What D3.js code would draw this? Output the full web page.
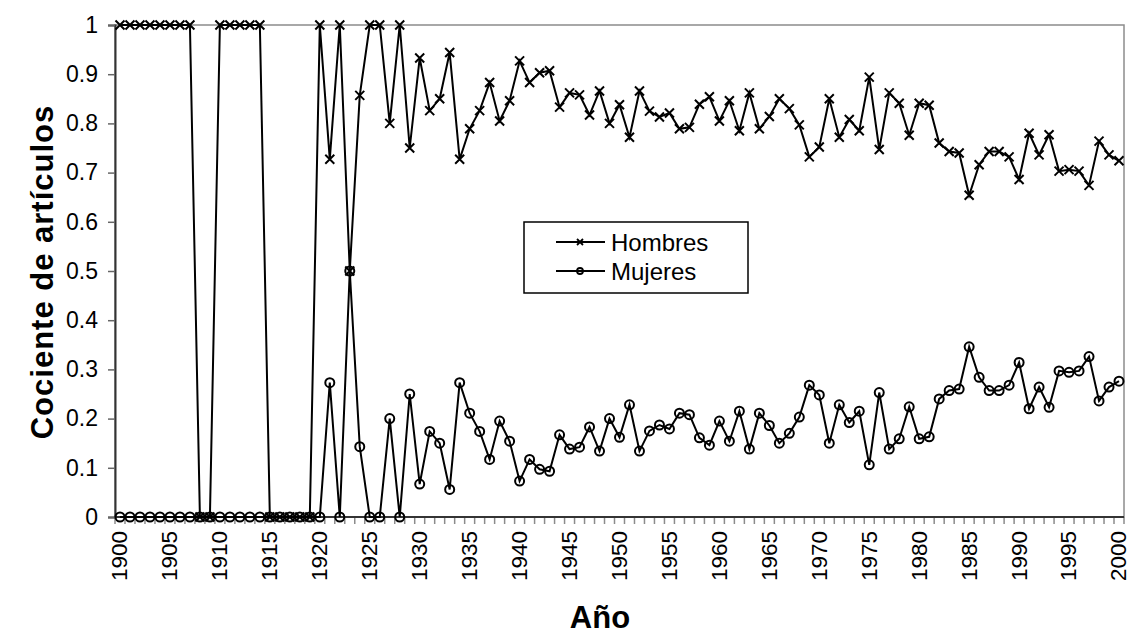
<!DOCTYPE html>
<html>
<head>
<meta charset="utf-8">
<script src="https://cdn.jsdelivr.net/npm/d3@7/dist/d3.min.js"></script>
<style>
  html, body { margin: 0; padding: 0; background: #fff; }
  svg { display: block; font-family: "Liberation Sans", Arial, sans-serif; }
</style>
</head>
<body>
<svg id="chart" width="1130" height="636"></svg>
<script>
// ---- data ----
const years = d3.range(1900, 2001).map(String);
const tickLabels = ["1900","1905","1910","1915","1920","1925","1930","1935","1940","1945","1950",
  "1955","1960","1965","1970","1975","1980","1985","1990","1995","2000"];
const yTicks = [0, 0.1, 0.2, 0.3, 0.4, 0.5, 0.6, 0.7, 0.8, 0.9, 1];
const seriesNames = ["Hombres", "Mujeres"];
const hombres = [
  1,1,1,1,1,1,1,1, 0,0, 1,1,1,1,1, 0,0,0,0,0, 1,
  0.727,1,0.5,0.857,1,1,0.8,1,0.75,
  0.933,0.826,0.85,0.944,0.727,0.789,0.826,0.883,0.805,0.846,
  0.927,0.883,0.903,0.907,0.833,0.862,0.858,0.817,0.866,0.8,
  0.838,0.772,0.866,0.825,0.813,0.821,0.789,0.792,0.839,0.854,
  0.805,0.846,0.785,0.862,0.789,0.814,0.85,0.83,0.797,0.732,
  0.752,0.85,0.772,0.808,0.785,0.894,0.747,0.862,0.841,0.776,
  0.841,0.837,0.76,0.743,0.74,0.654,0.716,0.743,0.743,0.732,
  0.686,0.78,0.736,0.777,0.703,0.706,0.703,0.674,0.764,0.736,
  0.724
];
const mujeres = [
  0,0,0,0,0,0,0,0, 0,0, 0,0,0,0,0, 0,0,0,0,0, 0,
  0.273,0,0.5,0.143,0,0,0.2,0,0.25,
  0.067,0.174,0.15,0.056,0.273,0.211,0.174,0.117,0.195,0.154,
  0.073,0.117,0.097,0.093,0.167,0.138,0.142,0.183,0.134,0.2,
  0.162,0.228,0.134,0.175,0.187,0.179,0.211,0.208,0.161,0.146,
  0.195,0.154,0.215,0.138,0.211,0.186,0.15,0.17,0.203,0.268,
  0.248,0.15,0.228,0.192,0.215,0.106,0.253,0.138,0.159,0.224,
  0.159,0.163,0.24,0.257,0.26,0.346,0.284,0.257,0.257,0.268,
  0.314,0.22,0.264,0.223,0.297,0.294,0.297,0.326,0.236,0.264,
  0.276
];

// ---- layout ----
const svg = d3.select("#chart");
const L = 115, R = 1124, T = 25, B = 517;
const x = d3.scaleBand().domain(years).range([L, R]).padding(0);
const y = d3.scaleLinear().domain([0, 1]).range([B, T]);
const cx = d => x(d) + x.bandwidth() / 2;
const FONT = "'Liberation Sans', Arial, sans-serif";

// plot border
svg.append("rect").attr("x", L).attr("y", T).attr("width", R - L).attr("height", B - T)
  .attr("fill", "#fff").attr("stroke", "#8c8c8c").attr("stroke-width", 1.5);

// x axis
const xAxis = d3.axisBottom(x).tickSize(0).tickFormat(d => tickLabels.includes(d) ? d : "");
const gx = svg.append("g").attr("transform", `translate(0,${B})`).call(xAxis);
gx.select(".domain").remove();
gx.selectAll("text")
  .attr("transform", "rotate(-90)")
  .attr("x", -14).attr("y", 0).attr("dy", "0.33em")
  .attr("text-anchor", "end")
  .attr("font-size", 22.5).attr("fill", "#000")
  .style("font-family", FONT);
// category boundary ticks
const bounds = years.map(d => x(d)).concat([R]);
svg.append("g").selectAll("line").data(bounds).join("line")
  .attr("x1", d => d).attr("x2", d => d).attr("y1", B).attr("y2", B + 7)
  .attr("stroke", "#8c8c8c").attr("stroke-width", 1.5);
svg.append("line").attr("x1", L).attr("x2", R).attr("y1", B).attr("y2", B)
  .attr("stroke", "#333").attr("stroke-width", 2);

// y axis
const yAxis = d3.axisLeft(y).tickValues(yTicks).tickSize(7).tickPadding(10)
  .tickFormat(d => d3.format("")(+d.toFixed(1)));
const gy = svg.append("g").attr("transform", `translate(${L},0)`).call(yAxis);
gy.select(".domain").attr("stroke", "#333").attr("stroke-width", 2);
gy.selectAll(".tick line").attr("stroke", "#666").attr("stroke-width", 1.5);
gy.selectAll("text").attr("font-size", 23).attr("fill", "#000")
  .style("font-family", FONT);

// axis titles
svg.append("text").attr("transform", `translate(53,${(T + B) / 2 + 1}) rotate(-90)`)
  .attr("text-anchor", "middle").attr("font-size", 31).attr("font-weight", "bold")
  .attr("letter-spacing", 1)
  .text("Cociente de artículos");
svg.append("text").attr("x", 600).attr("y", 628)
  .attr("text-anchor", "middle").attr("font-size", 31).attr("font-weight", "bold")
  .text("Año");

// lines
const line = d3.line().x((d, i) => cx(years[i])).y(d => y(d));
const data = [hombres, mujeres];
svg.append("g").selectAll("path").data(data).join("path")
  .attr("d", d => line(d)).attr("fill", "none").attr("stroke", "#000").attr("stroke-width", 2);

// markers
function drawX(g, px, py, s, sw) {
  g.append("path").attr("d", `M${px - s},${py - s}L${px + s},${py + s}M${px - s},${py + s}L${px + s},${py - s}`)
    .attr("stroke", "#000").attr("stroke-width", sw).attr("fill", "none");
}
const gm = svg.append("g");
hombres.forEach((v, i) => drawX(gm, cx(years[i]), y(v), 4.5, 2));
gm.selectAll("circle").data(mujeres).join("circle")
  .attr("cx", (d, i) => cx(years[i])).attr("cy", d => y(d)).attr("r", 4.5)
  .attr("fill", "none").attr("stroke", "#000").attr("stroke-width", 2);

// legend
const lg = svg.append("g");
lg.append("rect").attr("x", 524).attr("y", 222).attr("width", 224).attr("height", 71)
  .attr("fill", "#fff").attr("stroke", "#000").attr("stroke-width", 1.5);
const ly = [242, 271];
seriesNames.forEach((name, i) => {
  lg.append("line").attr("x1", 556).attr("x2", 605).attr("y1", ly[i]).attr("y2", ly[i])
    .attr("stroke", "#000").attr("stroke-width", 2);
  if (i === 0) drawX(lg, 580, ly[i], 3, 1.8);
  else lg.append("circle").attr("cx", 580).attr("cy", ly[i]).attr("r", 3)
    .attr("fill", "none").attr("stroke", "#000").attr("stroke-width", 1.8);
  lg.append("text").attr("x", 611).attr("y", ly[i]).attr("dy", "0.36em")
    .attr("font-size", 24).text(name);
});
</script>
</body>
</html>
